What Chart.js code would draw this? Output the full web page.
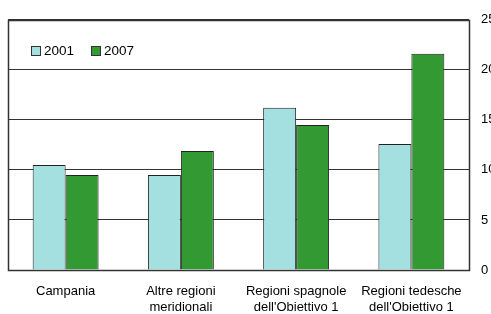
<!DOCTYPE html>
<html><head><meta charset="utf-8">
<script src="https://cdn.jsdelivr.net/npm/chart.js@4/dist/chart.umd.min.js"></script>
<style>
html,body{margin:0;padding:0;background:#fff;}
#wrap{position:relative;width:491px;height:314px;overflow:hidden;}
#legend{position:absolute;left:31px;top:43px;font:13.5px "Liberation Sans",Arial,sans-serif;color:#000;display:flex;line-height:16px;}
.item{display:flex;align-items:center;margin-right:17px;}
.box{width:8px;height:8px;border:1px solid #333;margin-right:3px;}
</style></head><body>
<div id="wrap"><canvas id="c" width="491" height="314"></canvas><div id="legend"></div></div>
<script>
const categories = [["Campania"], ["Altre regioni", "meridionali"], ["Regioni spagnole", "dell'Obiettivo 1"], ["Regioni tedesche", "dell'Obiettivo 1"]];
const seriesNames = ["2001", "2007"];
const values2001 = [10.5, 9.5, 16.2, 12.6];
const values2007 = [9.5, 11.9, 14.5, 21.6];
const yTicks = [0, 5, 10, 15, 20, 25];
const seriesColors = ["#a4e0e0", "#339933"];

Chart.defaults.font.family = "'Liberation Sans', Arial, sans-serif";
Chart.defaults.font.size = 13;
Chart.defaults.color = "#000";

const plotBox = {
  id: "plotBox",
  afterDraw(chart) {
    const a = chart.chartArea, ctx = chart.ctx;
    ctx.save();
    ctx.strokeStyle = "#333";
    ctx.lineWidth = 1.5;
    ctx.strokeRect(Math.round(a.left) + 0.5, Math.round(a.top) + 0.5, Math.round(a.right - a.left), Math.round(a.bottom - a.top));
    ctx.restore();
  }
};

const chart = new Chart(document.getElementById("c"), {
  type: "bar",
  data: {
    labels: categories,
    datasets: [
      { label: seriesNames[0], data: values2001, backgroundColor: seriesColors[0], borderColor: "#222", borderWidth: 1 },
      { label: seriesNames[1], data: values2007, backgroundColor: seriesColors[1], borderColor: "#222", borderWidth: 1 }
    ]
  },
  options: {
    responsive: false,
    animation: false,
    devicePixelRatio: 1,
    layout: { padding: { left: 8, top: 18, right: 0, bottom: 0 } },
    datasets: { bar: { categoryPercentage: 0.572, barPercentage: 1.0 } },
    plugins: { legend: { display: false }, tooltip: { enabled: false } },
    scales: {
      x: {
        grid: { display: false, drawTicks: false },
        border: { display: false },
        ticks: { padding: 14, maxRotation: 0, autoSkip: false },
        afterFit: s => { s.height = 44; }
      },
      y: {
        position: "right",
        min: 0, max: 25,
        grid: { color: "#333", lineWidth: 1, drawTicks: false },
        border: { display: false },
        ticks: { padding: 12, stepSize: 5 },
        afterBuildTicks: s => { s.ticks = yTicks.map(v => ({ value: v })); },
        afterFit: s => { s.width = 22; }
      }
    }
  },
  plugins: [plotBox]
});

const leg = document.getElementById("legend");
chart.data.datasets.forEach(ds => {
  const it = document.createElement("div"); it.className = "item";
  const b = document.createElement("div"); b.className = "box"; b.style.background = ds.backgroundColor;
  const t = document.createElement("span"); t.textContent = ds.label;
  it.appendChild(b); it.appendChild(t); leg.appendChild(it);
});
</script>
</body></html>
